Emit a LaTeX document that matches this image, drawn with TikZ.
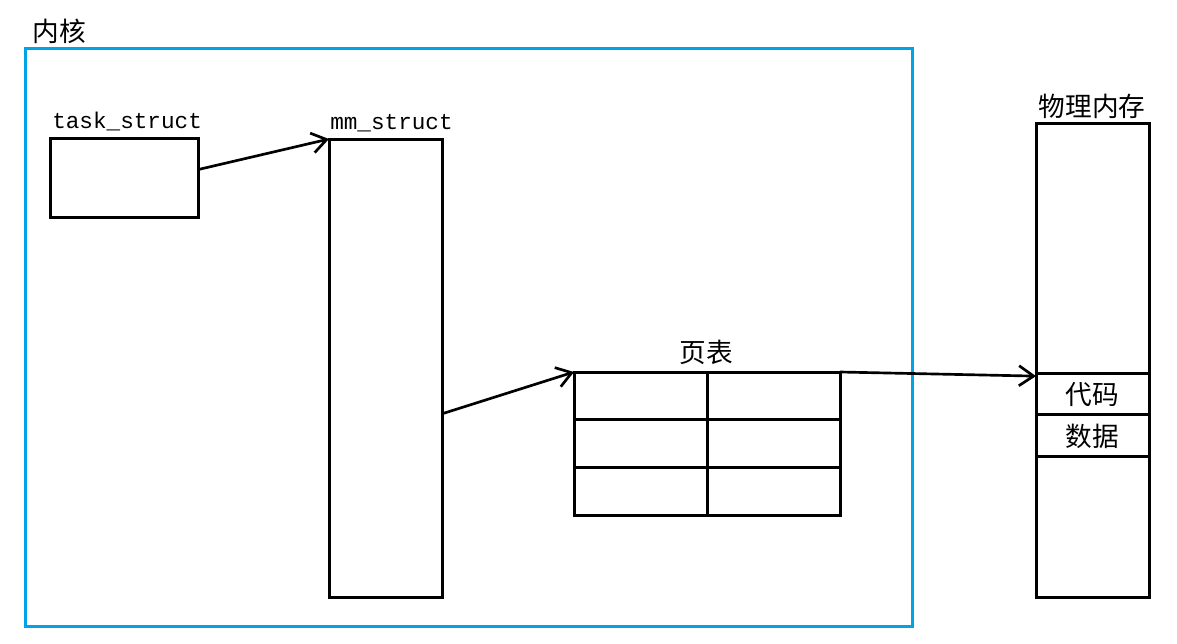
\documentclass[tikz,border=0pt]{standalone}
\usepackage{fontspec}
\setmainfont{Liberation Serif}
\newfontfamily\cjk{Noto Sans CJK SC}
\newfontfamily\monof{Liberation Mono}
\usetikzlibrary{arrows.meta,calc}
\definecolor{kblue}{HTML}{00A2E8}
\begin{document}
\begin{tikzpicture}[x=0.75pt,y=-0.75pt,
  box/.style={draw=black,line width=2.25pt,inner sep=0pt,outer sep=0pt},
  arr/.style={line width=2pt,-{Straight Barb[length=11pt,width=15pt,line width=2pt]}},
  cjklabel/.style={font=\cjk\fontsize{20}{22}\selectfont,inner sep=0pt},
  monolabel/.style={font=\monof\fontsize{17}{19}\selectfont,inner sep=0pt}]
\useasboundingbox (0,0) rectangle (1177,643);
% kernel frame
\node[draw=kblue,line width=2.25pt,minimum width=665.25pt,minimum height=433.5pt,inner sep=0pt] (kernel) at (468.5,337) {};
\node[cjklabel] (kernellbl) at (59,31) {内核};
% task_struct
\node[box,minimum width=111pt,minimum height=59.25pt] (task) at (124,177.5) {};
\node[monolabel,anchor=base west] (tasklbl) at (52,128) {task\_struct};
% mm_struct
\node[box,minimum width=84.75pt,minimum height=343.5pt] (mm) at (385.5,368) {};
\node[monolabel,anchor=base west] (mmlbl) at (330,129) {mm\_struct};
% page table
\node[box,minimum width=199.5pt,minimum height=107.25pt] (tbl) at (707,443.5) {};
\node[cjklabel] (tbllbl) at (706,352) {页表};
\draw[line width=2.25pt] (tbl.north) -- (tbl.south);
\draw[line width=2.25pt] ($(tbl.north west)!1/3!(tbl.south west)$) -- ($(tbl.north east)!1/3!(tbl.south east)$);
\draw[line width=2.25pt] ($(tbl.north west)!2/3!(tbl.south west)$) -- ($(tbl.north east)!2/3!(tbl.south east)$);
% physical memory
\node[box,minimum width=84.75pt,minimum height=355.5pt] (mem) at (1092.5,360) {};
\node[cjklabel] (memlbl) at (1092,106) {物理内存};
\draw[line width=2.25pt] (1036,373) -- (1149,373);
\draw[line width=2.25pt] (1036,414) -- (1149,414);
\draw[line width=2.25pt] (1036,456) -- (1149,456);
\node[cjklabel] (code) at (1092,395) {代码};
\node[cjklabel] (data) at (1092,436) {数据};
% arrows
\draw[arr] ($(task.north east)!0.4!(task.south east)$) -- (mm.north west);
\draw[arr] ($(mm.north east)!0.6!(mm.south east)$) -- (tbl.north west);
\draw[arr] (tbl.north east) -- ($(mem.north west)!0.534!(mem.south west)$);
\end{tikzpicture}
\end{document}
